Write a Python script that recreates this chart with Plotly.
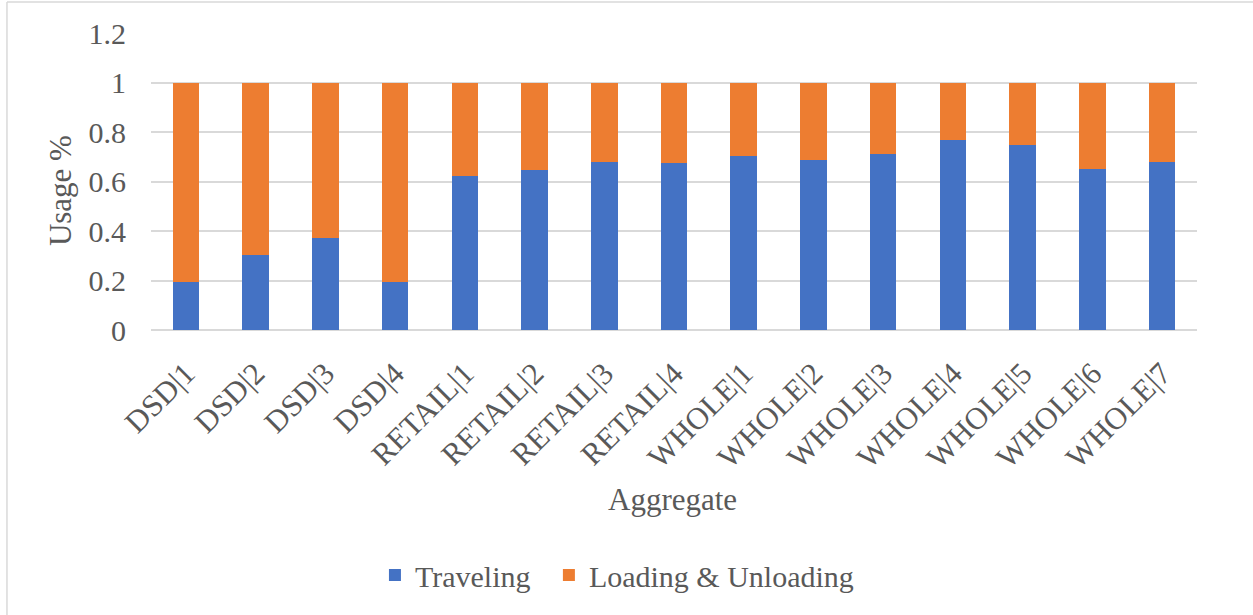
import plotly.graph_objects as go

categories = ["DSD|1", "DSD|2", "DSD|3", "DSD|4",
              "RETAIL|1", "RETAIL|2", "RETAIL|3", "RETAIL|4",
              "WHOLE|1", "WHOLE|2", "WHOLE|3", "WHOLE|4", "WHOLE|5", "WHOLE|6", "WHOLE|7"]
traveling = [0.194, 0.302, 0.373, 0.194,
             0.622, 0.648, 0.679, 0.676,
             0.704, 0.688, 0.712, 0.769, 0.749, 0.651, 0.679]
loading = [round(1 - v, 3) for v in traveling]
y_ticks = [0, 0.2, 0.4, 0.6, 0.8, 1, 1.2]
y_tick_labels = ["0", "0.2", "0.4", "0.6", "0.8", "1", "1.2"]

FONT = "Liberation Serif"
GRAY = "#595959"

fig = go.Figure()
fig.add_trace(go.Bar(x=categories, y=traveling, name="Traveling", legend="legend",
                     marker=dict(color="#4472C4", line=dict(width=0))))
fig.add_trace(go.Bar(x=categories, y=loading, name="Loading & Unloading", legend="legend2",
                     marker=dict(color="#ED7D31", line=dict(width=0))))

legend_style = dict(orientation="h", y=-0.825, xanchor="left", yanchor="middle",
                    font=dict(size=30, family=FONT, color=GRAY), itemwidth=30,
                    bgcolor="rgba(0,0,0,0)")

fig.update_layout(
    barmode="stack",
    bargap=0.62,
    width=1253, height=615,
    margin=dict(l=151, r=56, t=33, b=285, autoexpand=False),
    paper_bgcolor="white", plot_bgcolor="white",
    font=dict(family=FONT, color=GRAY, size=30),
    showlegend=True,
    legend=dict(x=0.2141, **legend_style),
    legend2=dict(x=0.3804, **legend_style),
    xaxis=dict(tickangle=-45, tickfont=dict(size=31), showgrid=False,
               showline=False, ticks="", ticklabelstandoff=18),
    yaxis=dict(range=[0, 1.2], tickvals=y_ticks, ticktext=y_tick_labels,
               showgrid=True, gridcolor="#D9D9D9", gridwidth=1.5,
               zeroline=True, zerolinecolor="#D9D9D9", zerolinewidth=1.5,
               showline=False, ticks="", tickfont=dict(size=30), ticklabelstandoff=24),
    annotations=[
        dict(text="Aggregate", xref="paper", yref="paper", x=0.499, y=-0.572,
             xanchor="center", yanchor="middle", showarrow=False,
             font=dict(size=31, family=FONT, color=GRAY)),
        dict(text="Usage %", xref="paper", yref="paper", x=-0.087, y=0.471,
             xanchor="center", yanchor="middle", showarrow=False, textangle=-90,
             font=dict(size=31, family=FONT, color=GRAY)),
    ],
    shapes=[
        dict(type="line", xref="paper", yref="paper", x0=-0.1377, x1=-0.1377, y0=1.104, y1=-1.2,
             line=dict(color="#D9D9D9", width=1.5)),
        dict(type="line", xref="paper", yref="paper", x0=-0.1377, x1=1.2, y0=1.104, y1=1.104,
             line=dict(color="#D9D9D9", width=1.5)),
    ],
)

fig.write_html("out.html")
